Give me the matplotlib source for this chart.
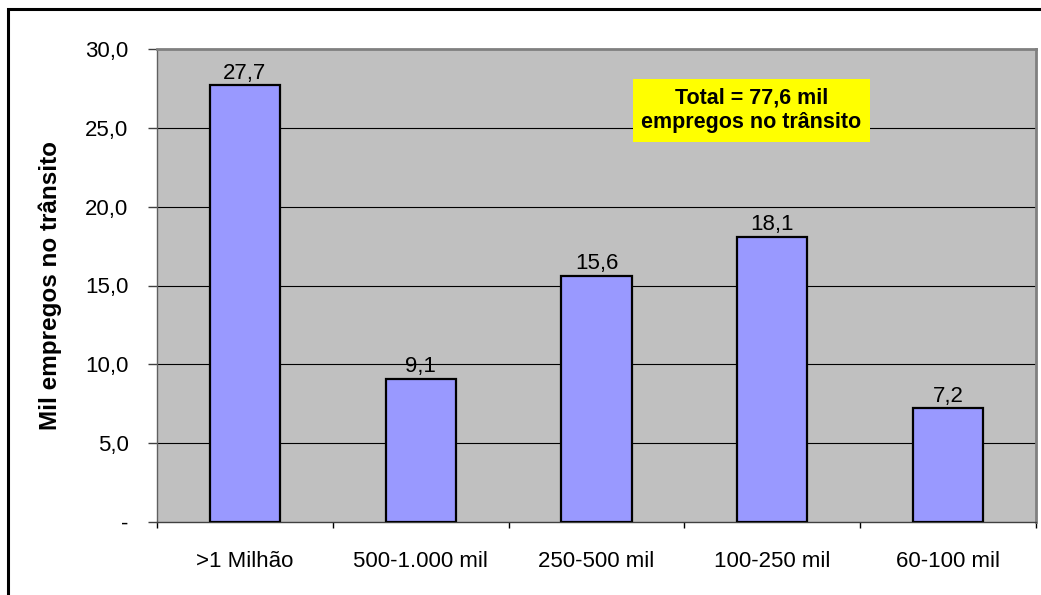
import matplotlib.pyplot as plt
import matplotlib.patches as patches
import numpy as np

plt.rcParams['font.family'] = ['Liberation Sans', 'DejaVu Sans']

categories = ['>1 Milhão', '500-1.000 mil', '250-500 mil', '100-250 mil', '60-100 mil']
values = [27.7, 9.1, 15.6, 18.1, 7.2]
yticks = [0, 5, 10, 15, 20, 25, 30]
ytick_labels = ['-', '5,0', '10,0', '15,0', '20,0', '25,0', '30,0']
note = 'Total = 77,6 mil\nempregos no trânsito'


def fmt(v):
    return f"{v:.1f}".replace('.', ',')


fig = plt.figure(figsize=(10.41, 5.95), dpi=100)
ax = fig.add_axes([157 / 1041, 1 - 522 / 595, (1036 - 157) / 1041, (522 - 49) / 595])

# outer chart border (clipped at right and bottom like the reference)
fig.patches.append(patches.Rectangle((8 / 1041, -0.05), 1.1, 1 - 9 / 595 + 0.05,
                                     transform=fig.transFigure, fill=False,
                                     edgecolor='black', linewidth=2.2))

x = np.arange(len(categories))
ax.set_facecolor('#C0C0C0')
ax.bar(x, values, width=0.40, color='#9999FF', edgecolor='black', linewidth=1.6, zorder=3)

for xi, v in zip(x, values):
    ax.text(xi, v + 0.1, fmt(v), ha='center', va='bottom', fontsize=16, zorder=4)

ax.set_xlim(-0.5, len(categories) - 0.5)
ax.set_ylim(0, 30)
ax.set_yticks(yticks)
ax.set_yticklabels(ytick_labels, fontsize=16)
ax.set_xticks(x)
ax.set_xticklabels(categories, fontsize=16)
ax.tick_params(axis='x', length=0, pad=21)
ax.set_xticks(np.arange(len(categories) + 1) - 0.5, minor=True)
ax.tick_params(axis='x', which='minor', length=4.5, color='black', width=1)
ax.tick_params(axis='y', length=6.5, color='#404040', width=1, pad=14)

for y in yticks[1:-1]:
    ax.axhline(y, color='black', linewidth=0.8, zorder=1)

for side in ['top', 'right']:
    ax.spines[side].set_color('#808080')
    ax.spines[side].set_linewidth(2)
ax.spines['left'].set_color('#606060')
ax.spines['bottom'].set_color('#404040')
ax.spines['left'].set_linewidth(1)
ax.spines['bottom'].set_linewidth(1)

ax.set_ylabel('Mil empregos no trânsito', fontsize=17.5, fontweight='bold', labelpad=17)

ax.text(2.88, 26.1, note, ha='center', va='center', fontsize=15.5, fontweight='bold',
        linespacing=1.25, zorder=5,
        bbox=dict(boxstyle='square,pad=0.4', facecolor='#FFFF00', edgecolor='none'))

fig.savefig('out.png', dpi=100)
